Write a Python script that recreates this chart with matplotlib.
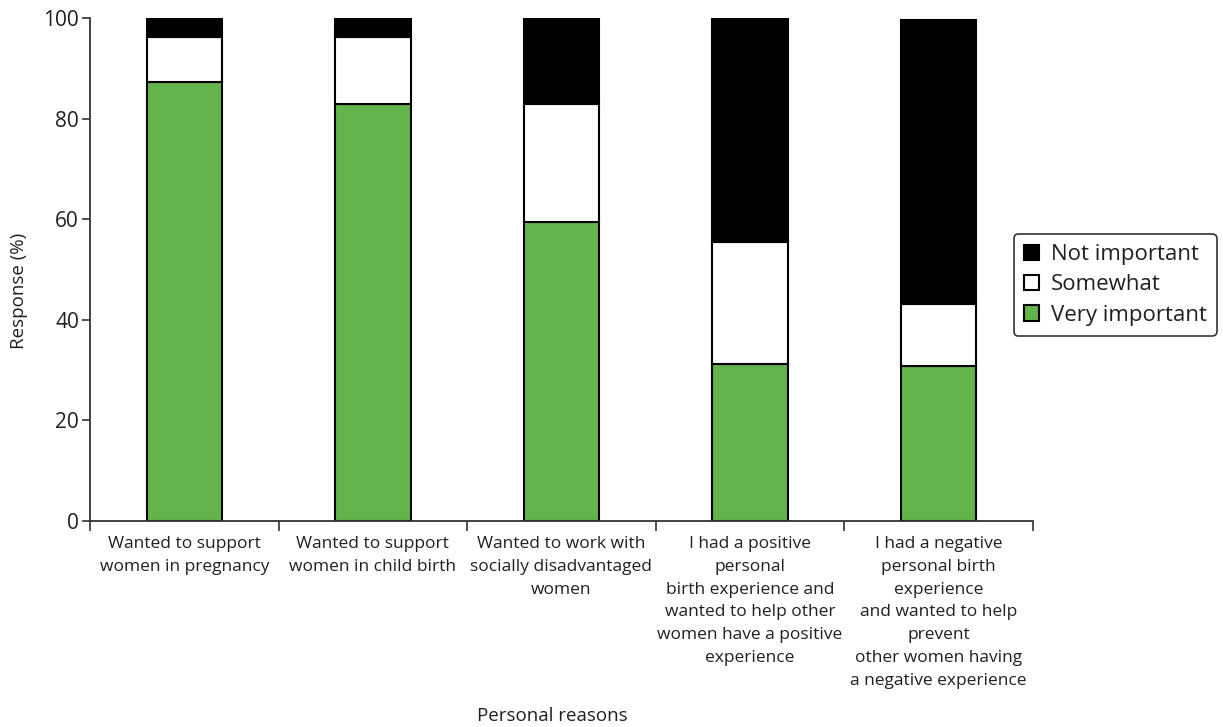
import numpy as np
import matplotlib.pyplot as plt

categories = ["Wanted to support\nwomen in pregnancy",
              "Wanted to support\nwomen in child birth",
              "Wanted to work with\nsocially disadvantaged\nwomen",
              "I had a positive\npersonal\nbirth experience and\nwanted to help other\nwomen have a positive\nexperience",
              "I had a negative\npersonal birth\nexperience\nand wanted to help\nprevent\nother women having\na negative experience"]
very_important = [87.3, 82.9, 59.4, 31.2, 30.8]
somewhat = [9.0, 13.4, 23.5, 24.3, 12.3]
not_important = [3.7, 3.7, 17.1, 44.5, 56.6]

txt = '#231f20'
green = '#64b34b'
plt.rcParams['font.family'] = ['Open Sans', 'DejaVu Sans']

fig = plt.figure(figsize=(12.23, 7.27), dpi=100)
ax = fig.add_axes([0.0736, 0.2834, 0.771, 0.6918])

x = np.arange(len(categories))
w = 0.4
vi = np.array(very_important)
sw = np.array(somewhat)
ni = np.array(not_important)
ax.bar(x, vi, w, color=green, edgecolor='black', linewidth=1.5, label='Very important')
ax.bar(x, sw, w, bottom=vi, color='white', edgecolor='black', linewidth=1.5, label='Somewhat')
ax.bar(x, ni, w, bottom=vi + sw, color='black', edgecolor='black', linewidth=1.5, label='Not important')

ax.set_xlim(-0.5, len(categories) - 0.5)
ax.set_ylim(0, 100)
ax.set_yticks(np.arange(0, 101, 20))
ax.set_xticks(np.arange(-0.5, len(categories), 1.0))
ax.set_xticklabels([])
ax.set_xticks(x, minor=True)
ax.set_xticklabels(categories, minor=True, fontsize=12.5, color=txt, linespacing=1.56, va='top')
ax.tick_params(axis='x', which='minor', length=0, pad=11)
ax.tick_params(axis='x', which='major', length=7, width=1.2, color='#333333', direction='out')
ax.tick_params(axis='y', length=6, width=1.2, color='#333333', labelsize=15, labelcolor=txt, pad=2)

for s in ['top', 'right']:
    ax.spines[s].set_visible(False)
for s in ['left', 'bottom']:
    ax.spines[s].set_linewidth(1.3)
    ax.spines[s].set_color('#333333')

ax.set_ylabel('Response (%)', fontsize=13.5, color=txt, va='center')
ax.yaxis.set_label_coords(-0.075, 0.457)
ax.set_xlabel('Personal reasons', fontsize=13.5, color=txt, va='center')
ax.xaxis.set_label_coords(0.49, -0.388)

h, l = ax.get_legend_handles_labels()
leg = fig.legend(h[::-1], l[::-1], loc='upper left', bbox_to_anchor=(0.829, 0.678),
                 fontsize=16, frameon=True, fancybox=True, edgecolor='black',
                 handlelength=0.7, handleheight=0.7, handletextpad=0.5, labelspacing=0.42,
                 borderpad=0.45, borderaxespad=0, labelcolor=txt)
leg.get_frame().set_linewidth(1.2)

plt.savefig('out.png', dpi=100)
